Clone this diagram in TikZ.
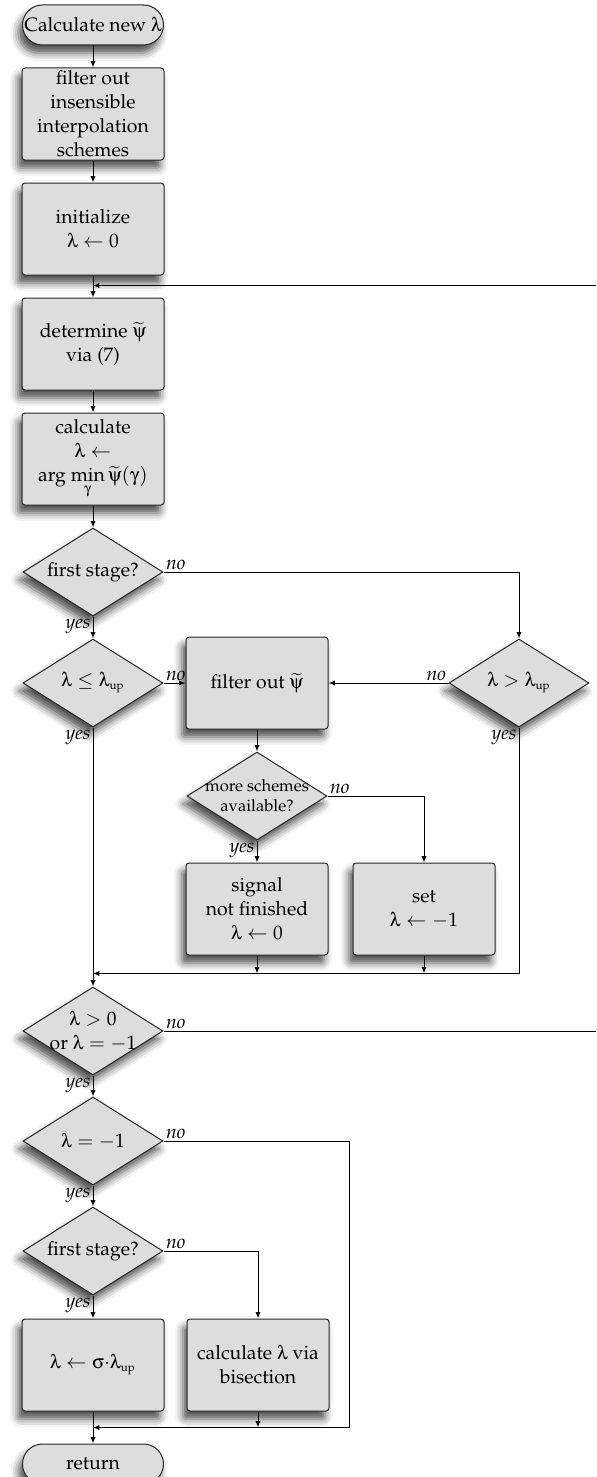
\documentclass[tikz,border=0pt]{standalone}
\usepackage[T1]{fontenc}
\usepackage{mathpazo}
\usepackage[Symbol]{upgreek}
\usetikzlibrary{positioning,shapes.geometric,arrows.meta,shadows.blur}

\begin{document}
\begin{tikzpicture}[
  x=1pt, y=1pt,
  font=\fontsize{9.7}{12}\selectfont,
  >={Latex[length=3.2pt,width=2.6pt]},
  shadowed/.style={blur shadow={shadow xshift=-2pt, shadow yshift=-4pt,
                   shadow blur radius=4pt, shadow opacity=70}},
  terminal/.style={draw=black!85, line width=0.5pt, fill=boxgray, rectangle,
                   rounded corners=10pt, minimum width=70.5pt, minimum height=20pt,
                   inner xsep=0pt, shadowed},
  process/.style={draw=black!85, line width=0.5pt, fill=boxgray, rounded corners=1.5pt,
                  align=center, minimum width=71pt, minimum height=46pt, inner sep=1pt, shadowed},
  decision/.style={draw=black!85, line width=0.5pt, fill=boxgray, diamond, shape aspect=1.6,
                   minimum width=70pt, minimum height=44pt, inner sep=-3pt, align=center, shadowed},
  flow/.style={->, line width=0.5pt},
  yeslbl/.style={font=\fontsize{9.7}{12}\itshape, anchor=north east, inner sep=1pt},
  nolbl/.style={font=\fontsize{9.7}{12}\itshape, anchor=south west, inner sep=1pt},
  nolblleft/.style={font=\fontsize{9.7}{12}\itshape, anchor=south east, inner sep=1pt},
  node distance=11pt,
]
\definecolor{boxgray}{HTML}{DDDDDD}

\useasboundingbox (0,0) rectangle (298,-738.5);
\clip (0,0) rectangle (298,-738.5);

% ---- main column ----
\node[terminal] (start) at (46.5,-12.5) {Calculate new $\uplambda$};
\node[process, below=of start] (sieve) {filter out\\insensible\\interpolation\\schemes};
\node[process, below=of sieve] (init) {initialize\\$\uplambda \leftarrow 0$};
\node[process, below=of init] (detpsi) {determine $\widetilde{\uppsi}$\\via (7)};
\node[process, below=of detpsi] (argmin) {calculate\\$\uplambda \leftarrow$\\arg $\min\limits_{\upgamma}\widetilde{\uppsi}(\upgamma)$};
\node[decision, below=of argmin] (firsta) {first stage?};
\node[decision, below=of firsta] (leup) {$\uplambda \le \uplambda_{\scriptscriptstyle\mathrm{up}}$};

% ---- filter branch ----
\node[process, right=of leup] (filtpsi) {filter out $\widetilde{\uppsi}$};
\node[decision, right=60pt of filtpsi] (gtup) {$\uplambda > \uplambda_{\scriptscriptstyle\mathrm{up}}$};
\node[decision, below=of filtpsi, font=\fontsize{8.3}{10}\selectfont] (more) {more schemes\\available?};
\node[process, below=of more] (signal) {signal\\not finished\\$\uplambda \leftarrow 0$};
\node[process, right=12pt of signal] (setneg) {set\\$\uplambda \leftarrow -1$};

\coordinate[below=9pt of signal] (merge0);
\coordinate (merge) at (merge0 -| leup);

% ---- lower column ----
\node[decision, below=6.5pt of merge] (posneg) {$\uplambda > 0$\\or $\uplambda = -1$};
\node[decision, below=10.5pt of posneg] (isneg) {$\uplambda = -1$};
\node[decision, below=10.5pt of isneg] (firstb) {first stage?};
\node[process, below=11.5pt of firstb] (scale) {$\uplambda \leftarrow \upsigma{\cdot}\uplambda_{\scriptscriptstyle\mathrm{up}}$};
\node[process, right=of scale] (bisect) {calculate $\uplambda$ via\\bisection};
\node[terminal, below=16pt of scale] (ret) {return};

\coordinate[below=8pt of scale] (join);
\coordinate[right=10pt of bisect] (isnegx);
\coordinate[below=5pt of init] (loopin);
\coordinate (loopx) at (305,0);

% ---- arrows ----
\draw[flow] (start) -- (sieve);
\draw[flow] (sieve) -- (init);
\draw[flow] (init) -- (detpsi);
\draw[flow] (detpsi) -- (argmin);
\draw[flow] (argmin) -- (firsta);
\draw[flow] (firsta.south) node[yeslbl] {yes} -- (leup.north);
\draw[flow] (firsta.east) node[nolbl] {no} -| (gtup.north);
\draw[flow] (leup.east) node[nolbl] {no} -- (filtpsi.west);
\draw[flow] (gtup.west) node[nolblleft] {no} -- (filtpsi.east);
\draw[flow] (filtpsi) -- (more);
\draw[flow] (more.south) node[yeslbl] {yes} -- (signal.north);
\draw[flow] (more.east) node[nolbl] {no} -| (setneg.north);
\draw[flow] (leup.south) node[yeslbl] {yes} -- (posneg.north);
\draw[flow] (gtup.south) node[yeslbl] {yes} |- (merge);
\draw[flow] (signal.south) -- (merge0);
\draw[flow] (setneg.south) -- (setneg.south |- merge0);
\draw[flow] (posneg.east) node[nolbl] {no} -| (loopx) |- (loopin);
\draw[flow] (posneg.south) node[yeslbl] {yes} -- (isneg.north);
\draw[flow] (isneg.south) node[yeslbl] {yes} -- (firstb.north);
\draw[flow] (isneg.east) node[nolbl] {no} -| (isnegx) |- (join);
\draw[flow] (firstb.south) node[yeslbl] {yes} -- (scale.north);
\draw[flow] (firstb.east) node[nolbl] {no} -| (bisect.north);
\draw[flow] (bisect.south) -- (bisect.south |- join);
\draw[flow] (scale) -- (ret);
\end{tikzpicture}
\end{document}
